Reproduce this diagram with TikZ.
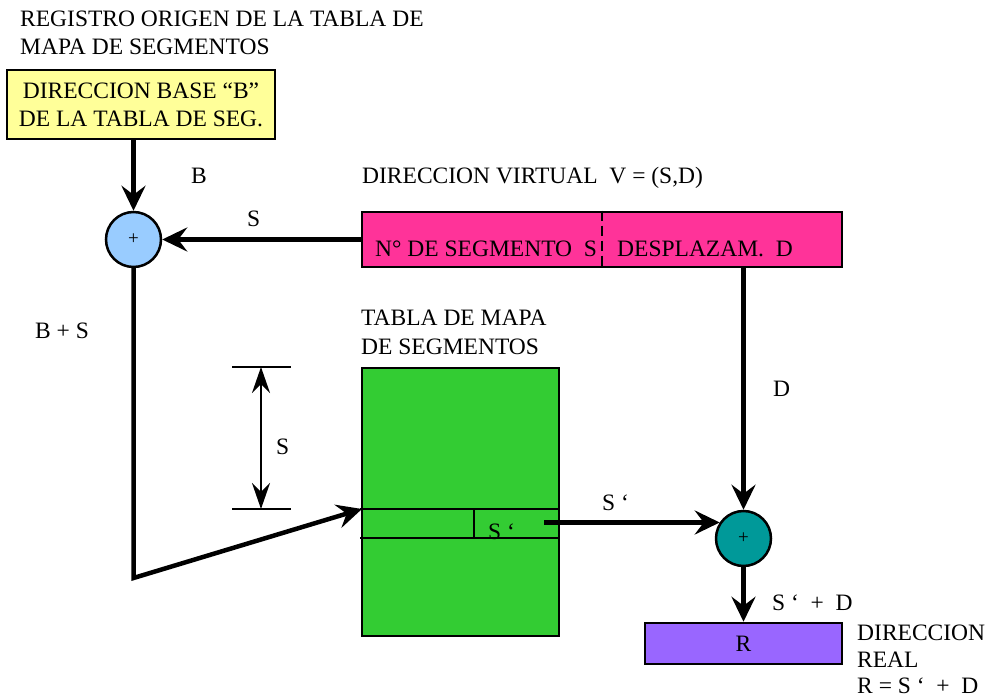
\documentclass[tikz,border=0pt]{standalone}
\usepackage{fontspec}
\setmainfont{Liberation Serif}
\usetikzlibrary{arrows.meta}
\definecolor{cyell}{HTML}{FFFF99}
\definecolor{cblue}{HTML}{99CCFF}
\definecolor{cpink}{HTML}{FF3399}
\definecolor{cgreen}{HTML}{33CC33}
\definecolor{cteal}{HTML}{009999}
\definecolor{cviol}{HTML}{9966FF}
\begin{document}
\begin{tikzpicture}[x=1pt,y=-1pt,
  every node/.style={font=\fontsize{23.5}{28}\selectfont, inner sep=0pt},
  lbl/.style={anchor=base west},
  box/.style={draw=black, line width=2.5pt, rectangle},
  sumc/.style={draw=black, line width=2.5pt, circle, minimum size=55pt, font=\fontsize{19}{19}\selectfont},
  arr/.style={line width=4.5pt, -{Stealth[length=25pt,width=24pt,inset=9pt]}},
  thin/.style={line width=2pt},
  dimarr/.style={line width=2pt, {Stealth[length=26pt,width=18pt,inset=9pt]}-{Stealth[length=26pt,width=18pt,inset=9pt]}}]
\useasboundingbox (0,0) rectangle (991,700);

% titles
\node[lbl] (t1) at (20,27) {REGISTRO ORIGEN DE LA TABLA DE};
\node[lbl] (t2) at (20,55) {MAPA DE SEGMENTOS};

% yellow box
\node[box, fill=cyell, minimum width=268pt, minimum height=69pt, align=center] (yb) at (141,104.5)
  {DIRECCION BASE “B”\\DE LA TABLA DE SEG.};

% first adder
\node[sumc, fill=cblue] (c1) at (133.5,239.5) {+};

% virtual address
\node[lbl] (vt) at (362,184) {DIRECCION VIRTUAL\ \ V = (S,D)};
\node[box, fill=cpink, minimum width=480pt, minimum height=55pt] (vd) at (602,239.5) {};
\draw[line width=2.5pt, dash pattern=on 10pt off 5pt] (vd.north) -- (vd.south);
\node[lbl] (seg) at (375,257) {N° DE SEGMENTO\ \ S};
\node[lbl] (des) at (617,257) {DESPLAZAM.\ \ D};

% labels
\node[lbl] (lb) at (191,184) {B};
\node[lbl] (ls) at (247,227) {S};
\node[lbl] (lbs) at (35,339) {B + S};
\node[lbl] (ld) at (773,397) {D};

% table
\node[lbl] (tt1) at (361,326) {TABLA DE MAPA};
\node[lbl] (tt2) at (361,355) {DE SEGMENTOS};
\node[box, fill=cgreen, minimum width=197pt, minimum height=268pt] (tab) at (460.5,502) {};
\draw[line width=2.5pt] (360,509) -- (560,509);
\draw[line width=2.5pt] (360,538) -- (560,538);
\draw[line width=2.5pt] (474,509) -- (474,538);
\node[lbl] (sp1) at (488,539) {S ‘};

% dimension
\draw[thin] (232,367) -- (291,367);
\draw[thin] (232,509) -- (291,509);
\coordinate (dt) at (261,367);
\coordinate (db) at (261,509);
\draw[dimarr] (dt) -- (db);
\node[lbl] (lsd) at (276,454) {S};

% second adder
\node[sumc, fill=cteal] (c2) at (743.5,538.5) {+};
\node[lbl] (ls2) at (602,511) {S ‘};
\node[lbl] (lsd2) at (772,610) {S ‘\ \ +\ \ D};

% result
\node[box, fill=cviol, minimum width=197pt, minimum height=41pt] (rb) at (743.5,643.5) {R};
\node[lbl] (dr1) at (857,640) {DIRECCION};
\node[lbl] (dr2) at (857,667) {REAL};
\node[lbl] (dr3) at (857,693) {R = S ‘\ \ +\ \ D};

% connectors
\draw[arr] (yb.south -| c1) -- (c1.north);
\draw[arr] (vd.west) -- (c1.east);
\coordinate (bend) at (133.5,578);
\coordinate (rowin) at (362,509);
\draw[arr] (c1.south) -- (bend) -- (rowin);
\coordinate (spo) at (544,522.5);
\draw[arr] (spo) -- ([xshift=5pt]spo -| c2.west);
\draw[arr] (vd.south -| c2) -- (c2.north);
\draw[arr] (c2.south) -- (rb.north);
\end{tikzpicture}
\end{document}
